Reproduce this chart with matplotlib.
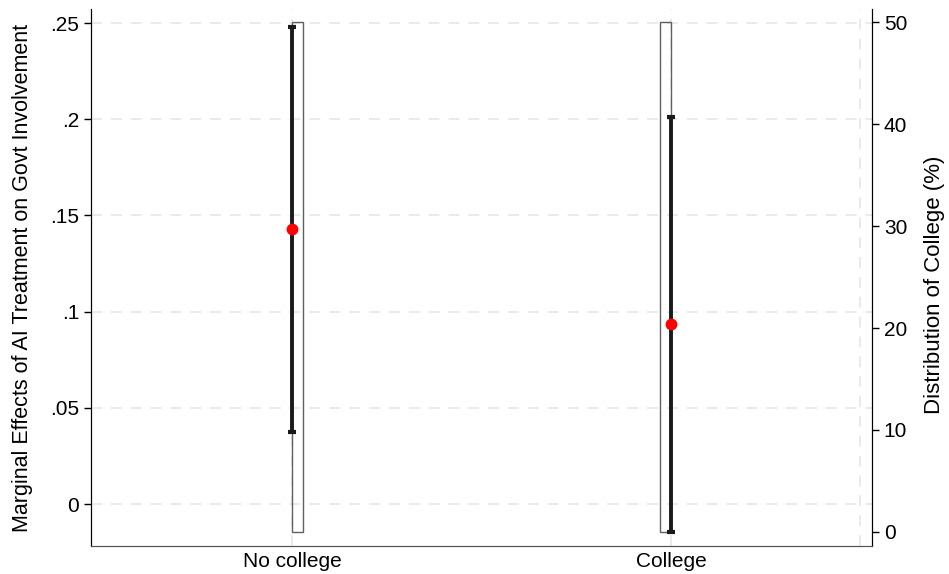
import matplotlib
matplotlib.use("Agg")
import matplotlib.pyplot as plt
import numpy as np

plt.rcParams['font.family'] = ['Liberation Sans', 'DejaVu Sans']

# data
groups = ['No college', 'College']
xpos = [0, 1]
effect = [0.1427, 0.0935]
ci_low = [0.0374, -0.0146]
ci_high = [0.2479, 0.2011]
share = [50, 50]          # distribution of College (%)
bar_align = [0.0, -1.0]   # bar sits right of point for group 0, left for group 1
yticks = [0, 0.05, 0.1, 0.15, 0.2, 0.25]
yticklabels = ['0', '.05', '.1', '.15', '.2', '.25']

fig = plt.figure(figsize=(9.49, 5.74), dpi=100)
ax = fig.add_axes([0.0959, 0.0488, 0.8230, 0.9355])
ax2 = ax.twinx()

# grid lines (on the lower axis so they sit under bars and CIs)
gridkw = dict(color='#e8e8e8', lw=1.3, ls=(0, (6, 5)), zorder=0)
for y in yticks:
    ax2.plot([0, 1], [y, y], transform=ax.get_yaxis_transform(), **gridkw)
for x in [0, 1, 1.5]:
    ax2.plot([x, x], [0, 1], transform=ax.get_xaxis_transform(), **gridkw)

# histogram bars on right axis
bw = 0.028
for x, h, a in zip(xpos, share, bar_align):
    ax2.bar(x + a * bw, h, width=bw, align='edge', facecolor='none',
            edgecolor='#606060', linewidth=1.0, zorder=2)
ax2.set_ylim(-1.375, 51.28)
ax2.set_yticks([0, 10, 20, 30, 40, 50])
ax2.set_ylabel('Distribution of College (%)', fontsize=16)
ax2.yaxis.set_label_coords(1.067, 0.486)
ax2.tick_params(axis='y', labelsize=15, length=5, width=1)

# point estimates with CIs on left axis
ax.set_zorder(ax2.get_zorder() + 1)
ax.patch.set_visible(False)
err = [np.array(effect) - np.array(ci_low), np.array(ci_high) - np.array(effect)]
ax.errorbar(xpos, effect, yerr=err, fmt='none', ecolor='#1a1a1a',
            elinewidth=2.8, capsize=3, capthick=3, zorder=3)
ax.plot(xpos, effect, 'o', color='red', markersize=7.5, zorder=4)

ax.set_xlim(-0.532, 1.531)
ax.set_ylim(-0.0218, 0.2573)
ax.set_yticks(yticks)
ax.set_yticklabels(yticklabels)
ax.set_xticks(xpos)
ax.set_xticklabels(groups)
ax.set_ylabel('Marginal Effects of AI Treatment on Govt Involvement', fontsize=15.5, labelpad=12)
ax.tick_params(axis='y', labelsize=15, length=5, width=1)
ax.tick_params(axis='x', labelsize=15, length=0, pad=4)

for a in (ax, ax2):
    a.spines['top'].set_visible(False)
ax.spines['bottom'].set_color('#555555')
ax2.spines['bottom'].set_color('#555555')

fig.savefig('out.png', dpi=100)
